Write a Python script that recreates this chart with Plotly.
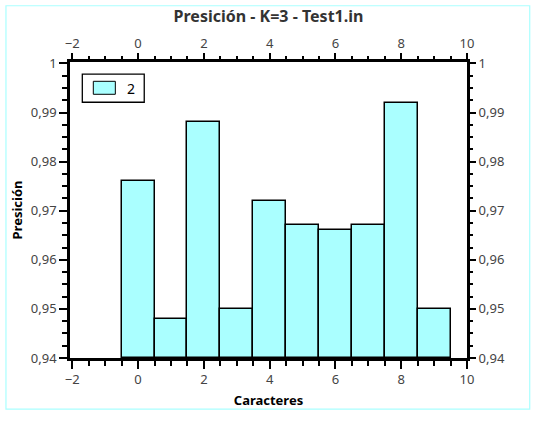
import plotly.graph_objects as go

categories = [0, 1, 2, 3, 4, 5, 6, 7, 8, 9]
values = [0.976, 0.948, 0.988, 0.950, 0.972, 0.967, 0.966, 0.967, 0.992, 0.950]
series_name = "2"
title_text = "Presición - K=3 - Test1.in"
x_title = "Caracteres"
y_title = "Presición"

FONT = "Noto Sans"
FILL = "#aaffff"

fig = go.Figure()
fig.add_trace(go.Bar(
    x=categories, y=[v - 0.94 for v in values], base=0.94,
    width=1, name=series_name,
    marker=dict(color=FILL, line=dict(color="black", width=1.5)),
    showlegend=False,
))
fig.add_trace(go.Scatter(x=[0], y=[0.95], xaxis="x2", yaxis="y2",
                         mode="markers", marker=dict(opacity=0),
                         hoverinfo="skip", showlegend=False))

tickfont = dict(family=FONT, size=13, color="#444")
common = dict(ticks="outside", ticklen=8, tickwidth=1.5, tickcolor="black",
              showgrid=False, zeroline=False, tickfont=tickfont, automargin=False)

xr = [-2.07, 10]
yr = [0.94, 1.0003]

fig.update_layout(
    width=535, height=421,
    margin=dict(l=70, r=68, t=62, b=63, autoexpand=False),
    paper_bgcolor="white", plot_bgcolor="white",
    separators=", ",
    bargap=0,
    title=dict(text="<b>" + title_text + "</b>", x=0.5, xref="paper",
               y=1 - 16 / 421, yanchor="middle",
               font=dict(family=FONT, size=16, color="#333")),
    xaxis=dict(range=xr, dtick=2, tick0=0,
               minor=dict(dtick=0.5, ticks="outside", ticklen=5, tickwidth=1.5, tickcolor="black"),
               showline=True, linewidth=2.5, linecolor="black", mirror=True,
               title=dict(text="<b>" + x_title + "</b>", standoff=9,
                          font=dict(family=FONT, size=13, color="black")),
               **common),
    xaxis2=dict(range=xr, dtick=2, tick0=0, overlaying="x", side="top", anchor="y",
                minor=dict(dtick=0.5, ticks="outside", ticklen=5, tickwidth=1.5, tickcolor="black"),
                showline=False, **common),
    yaxis=dict(range=yr, dtick=0.01, tick0=0.94,
               minor=dict(dtick=0.0025, ticks="outside", ticklen=5, tickwidth=1.5, tickcolor="black"),
               showline=True, linewidth=2.5, linecolor="black", mirror=True,
               title=dict(text="<b>" + y_title + "</b>", standoff=6,
                          font=dict(family=FONT, size=13, color="black")),
               **common),
    yaxis2=dict(range=yr, dtick=0.01, tick0=0.94, overlaying="y", side="right", anchor="x",
                minor=dict(dtick=0.0025, ticks="outside", ticklen=5, tickwidth=1.5, tickcolor="black"),
                showline=False, **common),
)

# outer light border
fig.add_shape(type="rect", xref="paper", yref="paper",
              x0=-0.1613, x1=1.158, y0=-0.173, y1=1.19,
              line=dict(color="#aaffff", width=1.2), fillcolor="rgba(0,0,0,0)", layer="below")
# legend box
fig.add_shape(type="rect", xref="paper", yref="paper",
              x0=0.031, x1=0.187, y0=0.864, y1=0.959,
              line=dict(color="black", width=1.3), fillcolor="white")
fig.add_shape(type="rect", xref="paper", yref="paper",
              x0=0.0587, x1=0.1142, y0=0.8909, y1=0.9348,
              line=dict(color="black", width=1), fillcolor=FILL)
fig.add_annotation(text=series_name, xref="paper", yref="paper", x=0.154, y=0.912,
                   showarrow=False, xanchor="center", yanchor="middle",
                   font=dict(family=FONT, size=14, color="black"))

fig.write_html("out.html", config={"displayModeBar": False},
               post_script="document.body.style.margin='0';document.body.style.overflow='hidden';")
